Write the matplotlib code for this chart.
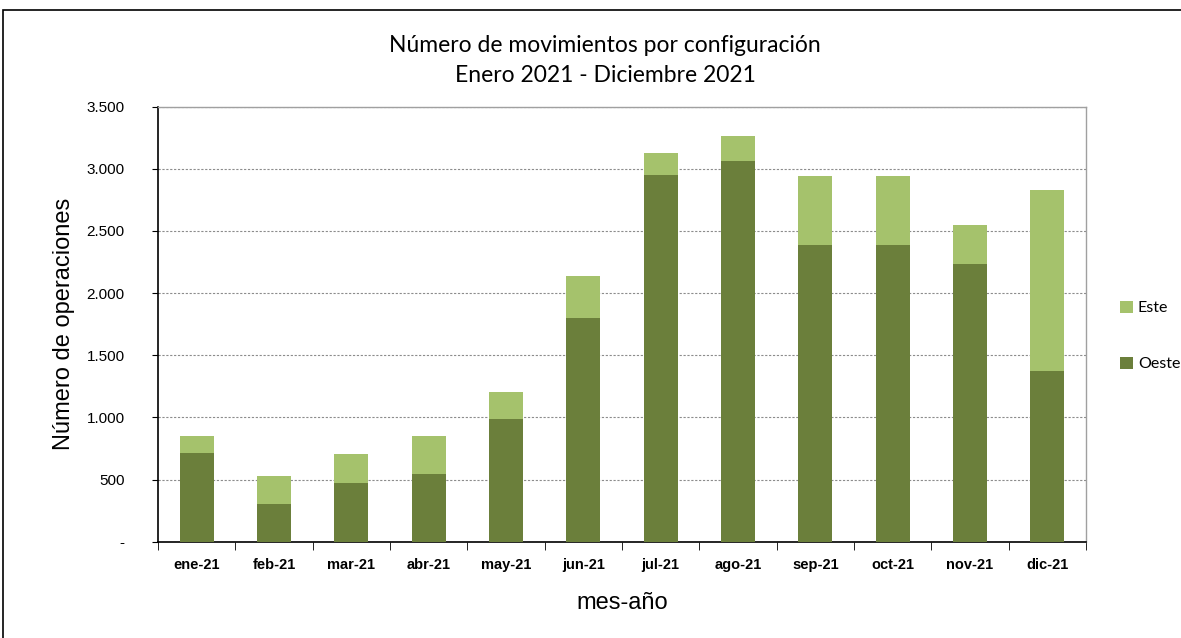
import matplotlib
matplotlib.use("Agg")
import matplotlib.pyplot as plt
from matplotlib.patches import Rectangle
from matplotlib.ticker import FuncFormatter, FixedLocator, NullFormatter
import numpy as np

months = ["ene-21", "feb-21", "mar-21", "abr-21", "may-21", "jun-21",
          "jul-21", "ago-21", "sep-21", "oct-21", "nov-21", "dic-21"]
oeste = [716, 306, 475, 545, 987, 1797, 2948, 3060, 2387, 2387, 2237, 1376]
este = [137, 220, 228, 308, 217, 338, 179, 206, 558, 558, 308, 1454]
yticks = [0, 500, 1000, 1500, 2000, 2500, 3000, 3500]

c_oeste = "#6b7f3b"
c_este = "#a5c26c"

W, H = 1181, 638
fig = plt.figure(figsize=(W / 100, H / 100), dpi=100)
fig.patch.set_facecolor("white")

# outer frame
fig.add_artist(Rectangle((3 / W, -0.1), 1.2, 1 - 10 / H + 0.1,
                         transform=fig.transFigure, fill=False,
                         edgecolor="black", linewidth=1.2))

ax = fig.add_axes([158 / W, 1 - 541.7 / H, (1086 - 158) / W, (541.7 - 106.7) / H])
x = np.arange(len(months))
bw = 0.44
b1 = ax.bar(x, oeste, width=bw, color=c_oeste, label="Oeste", zorder=3)
b2 = ax.bar(x, este, width=bw, bottom=oeste, color=c_este, label="Este", zorder=3)

ax.set_xlim(-0.5, len(months) - 0.5)
ax.set_ylim(0, 3500)
ax.set_yticks(yticks)
ax.yaxis.set_major_formatter(FuncFormatter(
    lambda v, p: "-" if v == 0 else f"{int(v):,}".replace(",", ".")))
ax.grid(axis="y", linestyle=(0, (2, 1.5)), color="#8c8c8c", linewidth=0.8, zorder=0)

ax.set_xticks(x)
ax.set_xticklabels(months, family="Liberation Sans", fontsize=10.5, fontweight="bold")
ax.tick_params(axis="x", which="major", length=0, pad=12)
ax.xaxis.set_minor_locator(FixedLocator(np.arange(-0.5, len(months), 1)))
ax.xaxis.set_minor_formatter(NullFormatter())
ax.tick_params(axis="x", which="minor", length=6, direction="out", color="black")
ax.tick_params(axis="y", length=4, direction="out", pad=20)
for lbl in ax.get_yticklabels():
    lbl.set_family("Liberation Sans")
    lbl.set_fontsize(11)

for s in ["top", "right"]:
    ax.spines[s].set_color("#a0a0a0")
    ax.spines[s].set_linewidth(1.0)
for s in ["left", "bottom"]:
    ax.spines[s].set_color("black")
    ax.spines[s].set_linewidth(1.2)

ax.set_ylabel("Número de operaciones", family="Liberation Sans", fontsize=17, labelpad=8)
ax.set_xlabel("mes-año", family="Liberation Sans", fontsize=17, labelpad=14)

fig.text(605 / W, 1 - 45 / H, "Número de movimientos por configuración",
         ha="center", va="center", family="Lato", fontsize=16.5)
fig.text(605 / W, 1 - 75 / H, "Enero 2021 - Diciembre 2021",
         ha="center", va="center", family="Lato", fontsize=16.5)

handles = [b2, b1]
fig.legend(handles, ["Este", "Oeste"], loc="center left",
           bbox_to_anchor=(1106 / W, 1 - 336 / H), frameon=False,
           prop={"family": "Lato", "size": 11.5}, handlelength=0.8,
           handleheight=0.8, handletextpad=0.3, labelspacing=2.6)

fig.savefig("out.png", dpi=100)
